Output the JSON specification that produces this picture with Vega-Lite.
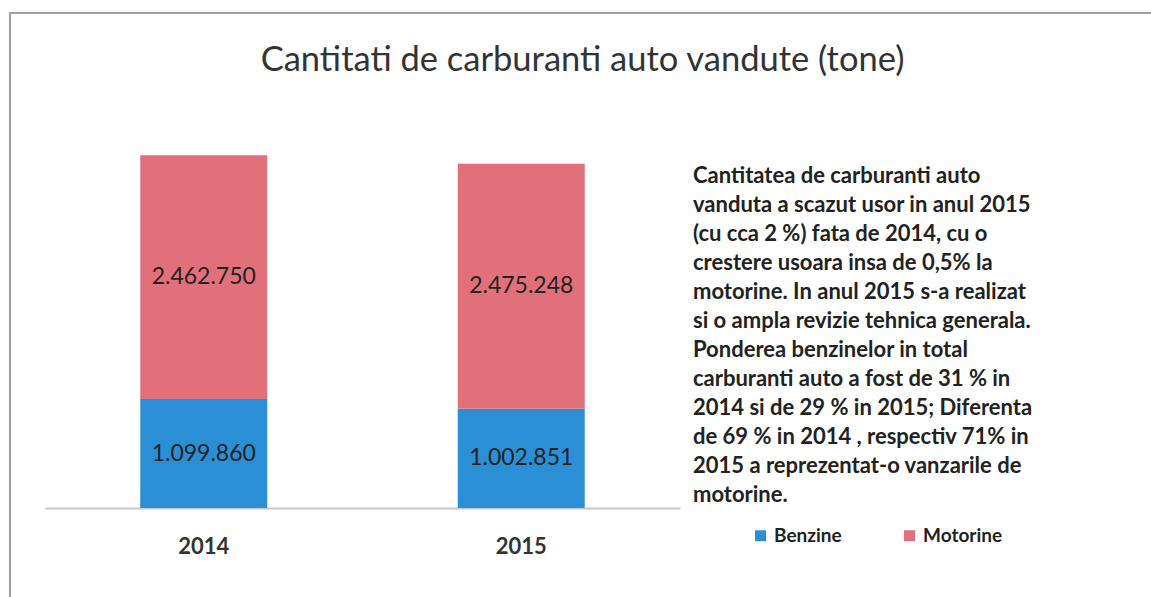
{
  "$schema": "https://vega.github.io/schema/vega-lite/v6.json",
  "width": 1145,
  "height": 590,
  "autosize": {"type": "none"},
  "padding": {"left": 10, "top": 13, "right": 0, "bottom": 0},
  "background": "white",
  "title": {
    "text": "Cantitati de carburanti auto vandute (tone)",
    "font": "Lato",
    "fontSize": 34.5,
    "fontWeight": "normal",
    "color": "#333333",
    "anchor": "middle",
    "frame": "group",
    "baseline": "middle",
    "dy": 86
  },
  "data": {
    "values": [
      {"year": "2014", "type": "Benzine", "tone": 1099860},
      {"year": "2014", "type": "Motorine", "tone": 2462750},
      {"year": "2015", "type": "Benzine", "tone": 1002851},
      {"year": "2015", "type": "Motorine", "tone": 2475248}
    ]
  },
  "encoding": {
    "x": {
      "field": "year",
      "type": "nominal",
      "scale": {"range": [35, 670], "paddingInner": 0.6, "paddingOuter": 0.3},
      "axis": {
        "title": null,
        "labelAngle": 0,
        "labelFont": "Lato",
        "labelFontSize": 22,
        "labelFontWeight": "bold",
        "labelColor": "#333333",
        "ticks": false,
        "domainColor": "#c8c8c8",
        "domainWidth": 2,
        "offset": -95,
        "labelPadding": 28
      }
    },
    "order": {"field": "type", "type": "nominal", "sort": "ascending"}
  },
  "layer": [
    {
      "mark": {"type": "bar"},
      "encoding": {
        "y": {
          "field": "tone",
          "type": "quantitative",
          "stack": "zero",
          "scale": {"domain": [0, 4000000], "range": [495, 99], "nice": false},
          "axis": null
        },
        "color": {
          "field": "type",
          "type": "nominal",
          "scale": {"domain": ["Benzine", "Motorine"], "range": ["#2b8fd6", "#e2707b"]},
          "legend": {
            "orient": "none",
            "legendX": 683,
            "legendY": 153,
            "direction": "horizontal",
            "title": [
              "Cantitatea de carburanti auto",
              "vanduta  a scazut usor in anul 2015",
              "(cu cca 2 %) fata de 2014, cu o",
              "crestere usoara insa de 0,5% la",
              "motorine.  In anul 2015 s-a realizat",
              "si o ampla revizie tehnica generala.",
              "Ponderea benzinelor  in total",
              "carburanti auto a fost de 31 % in",
              "2014 si de 29 % in 2015; Diferenta",
              "de 69 % in 2014 , respectiv 71% in",
              "2015 a reprezentat-o vanzarile de",
              "motorine."
            ],
            "titleFont": "Lato",
            "titleFontSize": 22,
            "titleFontWeight": "bold",
            "titleColor": "#222222",
            "titleLineHeight": 29,
            "titleBaseline": "top",
            "titleLimit": 600,
            "titlePadding": 19,
            "symbolType": "square",
            "symbolSize": 120,
            "symbolStrokeWidth": 0,
            "symbolOffset": 58,
            "labelFont": "Lato",
            "labelFontSize": 19,
            "labelFontWeight": "bold",
            "labelColor": "#222222",
            "columnPadding": -10
          }
        }
      }
    },
    {
      "mark": {"type": "text", "font": "Lato", "fontSize": 23, "color": "#222222", "baseline": "middle"},
      "encoding": {
        "y": {"field": "tone", "type": "quantitative", "stack": "zero", "bandPosition": 0.5},
        "detail": {"field": "type", "type": "nominal"},
        "text": {"field": "tone", "type": "quantitative", "format": ",d"}
      }
    }
  ],
  "config": {
    "locale": {"number": {"decimal": ",", "thousands": ".", "grouping": [3], "currency": ["", ""]}},
    "view": {"stroke": "#a0a0a0", "strokeWidth": 2}
  }
}
